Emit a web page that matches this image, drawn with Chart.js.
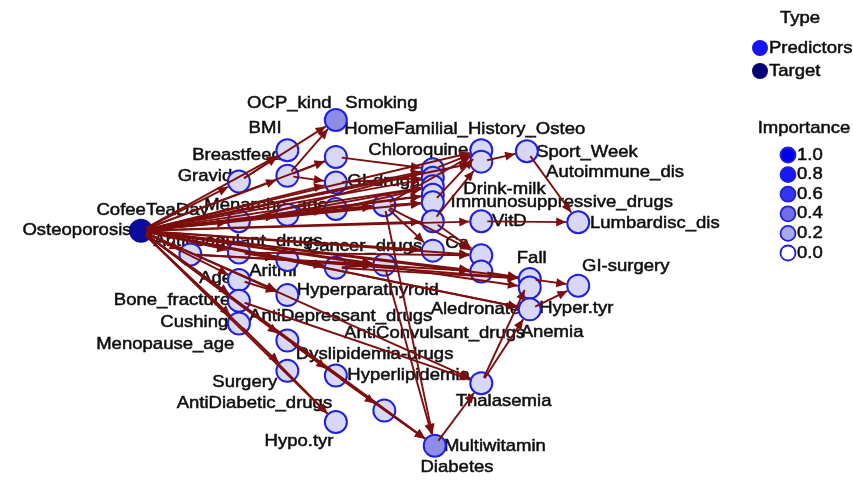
<!DOCTYPE html>
<html>
<head>
<meta charset="utf-8">
<script src="https://cdn.jsdelivr.net/npm/chart.js@4.4.0/dist/chart.umd.min.js"></script>
<style>
  html, body { margin: 0; padding: 0; background: #fff; }
  canvas { display: block; }
</style>
</head>
<body>
<canvas id="net" width="853" height="488"></canvas>
<script>
// ─── data: node layout (plot units), importance, edges, labels ───────────────
const nodeX = [132, 333, 283, 333, 283, 233, 333, 233, 283, 333, 383, 433, 433, 433, 433, 433,
               483, 483, 530, 433, 483, 583, 183, 233, 283, 333, 383, 433, 483, 483, 533, 533,
               583, 233, 233, 233, 283, 533, 283, 283, 333, 383, 333, 483, 435];
const nodeY = [230, 113, 145, 152, 172, 178, 179, 220, 213, 207, 203, 165, 174, 183, 192, 200,
               145, 157, 146, 220, 220, 221, 255, 253, 261, 269, 266, 251, 256, 273, 281, 290,
               288, 282, 304, 328, 298, 313, 346, 378, 383, 420, 432, 391, 457];
const nodeImportance = [1, 0.3, 0.1, 0.1, 0.1, 0.1, 0.1, 0.1, 0.1, 0.1, 0.1, 0.1, 0.15, 0.1, 0.1, 0.1,
                        0.1, 0.1, 0.1, 0.1, 0.1, 0.1, 0.1, 0.1, 0.1, 0.1, 0.1, 0.1, 0.1, 0.1, 0.1, 0.1,
                        0.1, 0.1, 0.1, 0.1, 0.1, 0.1, 0.1, 0.1, 0.1, 0.1, 0.1, 0.1, 0.3];
const targetIndex = 0;

const edgeFrom = [0, 0, 0, 0, 0, 0, 0, 0, 0, 0, 0, 0, 0, 0, 0, 0, 0, 0, 0, 0, 0, 0, 0, 0, 0, 0, 0, 0, 0, 0, 0, 0, 0,
                  0, 0, 0, 0, 0, 0, 0,
                  5, 4, 4, 4, 3, 6, 9, 8, 10, 8, 9, 10, 15, 11, 19, 17, 18, 20, 10, 10, 19, 23, 24, 25,
                  24, 25, 29, 30, 37, 43, 43, 44, 24, 34, 38, 35, 40, 26, 33, 22, 7, 10, 22, 23, 7, 5];
const edgeTo   = [2, 4, 5, 6, 7, 8, 9, 12, 13, 14, 16, 17, 19, 20, 22, 23, 24, 25, 26, 27, 28, 29, 30, 33, 34, 35, 36, 38, 39, 40, 41, 42, 44,
                  3, 10, 11, 15, 31, 37, 43,
                  1, 1, 6, 3, 11, 12, 13, 14, 15, 10, 10, 16, 16, 16, 17, 18, 21, 21, 27, 28, 28, 24, 25, 26,
                  30, 30, 30, 32, 32, 30, 37, 43, 37, 43, 44, 42, 44, 44, 36, 26, 11, 44, 29, 28, 13, 2];

const labelText = ['OCP_kind', 'Smoking', 'BMI', 'HomeFamilial_History_Osteo', 'Breastfeed', 'Chloroquine',
                   'Sport_Week', 'Gravid', 'Autoimmune_dis', 'GI-drugs', 'Drink-milk', 'CofeeTeaDay',
                   'Menarche_age', 'Immunosuppressive_drugs', 'VitD', 'Lumbardisc_dis', 'Osteoporosis',
                   'Anticoagulant_drugs', 'Cancer_drugs', 'Ca', 'Fall', 'GI-surgery', 'Aritmi', 'Age',
                   'Hyperparathyroid', 'Bone_fracture', 'Aledronate', 'Hyper.tyr', 'Cushing',
                   'AntiDepressant_drugs', 'AntiConvulsant_drugs', 'Anemia', 'Menopause_age',
                   'Dyslipidemia-drugs', 'Hyperlipidemia', 'Surgery', 'Thalasemia', 'AntiDiabetic_drugs',
                   'Hypo.tyr', 'Multiwitamin', 'Diabetes'];
const labelX = [285, 380, 260, 466, 231, 418, 592, 198, 621, 382, 507, 144, 261, 566, 512, 662, 66,
                232, 362, 458, 535, 632, 268, 209, 366, 164, 477, 581, 187, 338, 435, 556, 157,
                373, 408, 239, 506, 249, 295, 497, 458];
const labelY = [95, 95, 122, 123, 150, 145, 147, 172, 168, 178, 186, 208, 203, 200, 220, 222, 230,
                241, 246, 243, 259, 268, 273, 280, 293, 303, 313, 312, 327, 320, 338, 337, 350,
                360, 383, 390, 410, 412, 452, 458, 480];

const typeLabels = ['Predictors', 'Target'];
const importanceTicks = [1.0, 0.8, 0.6, 0.4, 0.2, 0.0];

// ─── styles ──────────────────────────────────────────────────────────────────
const EDGE_COLOR   = '#7c0e0e';
const NODE_BORDER  = '#2020dc';
const TARGET_FILL  = '#0c0c9c';
const LEGEND_TARGET = '#00007a';
const TEXT_COLOR   = '#0e0e0e';
const FONT         = '17px "Liberation Sans", Arial, sans-serif';
const STRETCH      = 1.09;   // the reference text is a little wider than tall
const NODE_R       = 11;

// importance → fill, taken from the legend swatches
const IMP_STOPS = [[0, [255, 255, 255]], [0.1, [216, 216, 246]], [0.2, [170, 170, 232]],
                   [0.4, [112, 112, 232]], [0.6, [52, 52, 244]], [0.8, [24, 24, 244]], [1, [0, 0, 236]]];
function impColor(t) {
  for (let i = 1; i < IMP_STOPS.length; i++) {
    const [t1, c1] = IMP_STOPS[i];
    const [t0, c0] = IMP_STOPS[i - 1];
    if (t <= t1) {
      const k = (t - t0) / (t1 - t0);
      const c = c0.map((v, j) => Math.round(v + (c1[j] - v) * k));
      return `rgb(${c[0]},${c[1]},${c[2]})`;
    }
  }
  return 'rgb(0,0,236)';
}

function drawText(ctx, text, px, py, align) {
  ctx.save();
  ctx.translate(px, py);
  ctx.scale(STRETCH, 1);
  ctx.textAlign = align || 'center';
  ctx.textBaseline = 'middle';
  ctx.lineWidth = 0.5;
  ctx.strokeStyle = TEXT_COLOR;
  ctx.fillText(text, 0, 0);
  ctx.strokeText(text, 0, 0);
  ctx.restore();
}

// ─── plugins ─────────────────────────────────────────────────────────────────
const labelsPlugin = {
  id: 'nodeLabels',
  beforeDatasetsDraw(chart) {
    const { ctx, scales: { x, y } } = chart;
    ctx.save();
    ctx.font = FONT;
    ctx.fillStyle = TEXT_COLOR;
    labelText.forEach((t, i) => drawText(ctx, t, x.getPixelForValue(labelX[i]), y.getPixelForValue(labelY[i])));
    ctx.restore();
  },
};

const edgesPlugin = {
  id: 'edges',
  afterDatasetsDraw(chart) {
    const { ctx, scales: { x, y } } = chart;
    ctx.save();
    ctx.strokeStyle = EDGE_COLOR;
    ctx.fillStyle = EDGE_COLOR;
    ctx.lineWidth = 1.9;
    edgeFrom.forEach((a, i) => {
      const b = edgeTo[i];
      const x0 = x.getPixelForValue(nodeX[a]), y0 = y.getPixelForValue(nodeY[a]);
      const x1 = x.getPixelForValue(nodeX[b]), y1 = y.getPixelForValue(nodeY[b]);
      const len = Math.hypot(x1 - x0, y1 - y0);
      if (len < 1) return;
      const ux = (x1 - x0) / len, uy = (y1 - y0) / len;
      const ex = x1 - ux * (NODE_R + 1), ey = y1 - uy * (NODE_R + 1);
      const sx = x0 + ux * 6, sy = y0 + uy * 6;
      ctx.beginPath();
      ctx.moveTo(sx, sy);
      ctx.lineTo(ex, ey);
      ctx.stroke();
      // arrow head
      const hl = 10, hw = 4.5;
      ctx.beginPath();
      ctx.moveTo(ex, ey);
      ctx.lineTo(ex - ux * hl - uy * hw, ey - uy * hl + ux * hw);
      ctx.lineTo(ex - ux * hl + uy * hw, ey - uy * hl - ux * hw);
      ctx.closePath();
      ctx.fill();
    });
    ctx.restore();
  },
};

const legendPlugin = {
  id: 'netLegend',
  afterDraw(chart) {
    const { ctx } = chart;
    ctx.save();
    ctx.font = FONT;
    ctx.fillStyle = TEXT_COLOR;
    drawText(ctx, 'Type', 800, 18);
    const typeFill = ['#1414f4', LEGEND_TARGET];
    typeLabels.forEach((t, i) => {
      const cy = 48 + i * 23;
      ctx.beginPath();
      ctx.arc(760, cy, 8, 0, Math.PI * 2);
      ctx.fillStyle = typeFill[i];
      ctx.fill();
      ctx.fillStyle = TEXT_COLOR;
      drawText(ctx, t, 769, cy, 'left');
    });
    drawText(ctx, 'Importance', 804, 128);
    importanceTicks.forEach((v, i) => {
      const cy = 155 + i * 19.6;
      ctx.beginPath();
      ctx.arc(788, cy, 7.5, 0, Math.PI * 2);
      ctx.fillStyle = impColor(v);
      ctx.fill();
      ctx.lineWidth = 1.8;
      ctx.strokeStyle = NODE_BORDER;
      ctx.stroke();
      ctx.fillStyle = TEXT_COLOR;
      drawText(ctx, v.toFixed(1), 797, cy, 'left');
    });
    ctx.restore();
  },
};

// ─── chart ───────────────────────────────────────────────────────────────────
const points = nodeX.map((v, i) => ({ x: v, y: nodeY[i] }));

new Chart(document.getElementById('net'), {
  type: 'scatter',
  data: {
    datasets: [{
      data: points,
      pointRadius: nodeX.map((_, i) => i === targetIndex ? 11 : NODE_R),
      pointBackgroundColor: nodeImportance.map((v, i) => i === targetIndex ? TARGET_FILL : impColor(v)),
      pointBorderColor: nodeX.map((_, i) => i === targetIndex ? TARGET_FILL : NODE_BORDER),
      pointBorderWidth: 2,
    }],
  },
  options: {
    responsive: false,
    animation: false,
    devicePixelRatio: 1,
    layout: { padding: 0 },
    plugins: { legend: { display: false }, tooltip: { enabled: false } },
    scales: {
      x: { type: 'linear', min: 0, max: 853, display: false },
      y: { type: 'linear', min: 0, max: 488, reverse: true, display: false },
    },
  },
  plugins: [labelsPlugin, edgesPlugin, legendPlugin],
});
</script>
</body>
</html>
